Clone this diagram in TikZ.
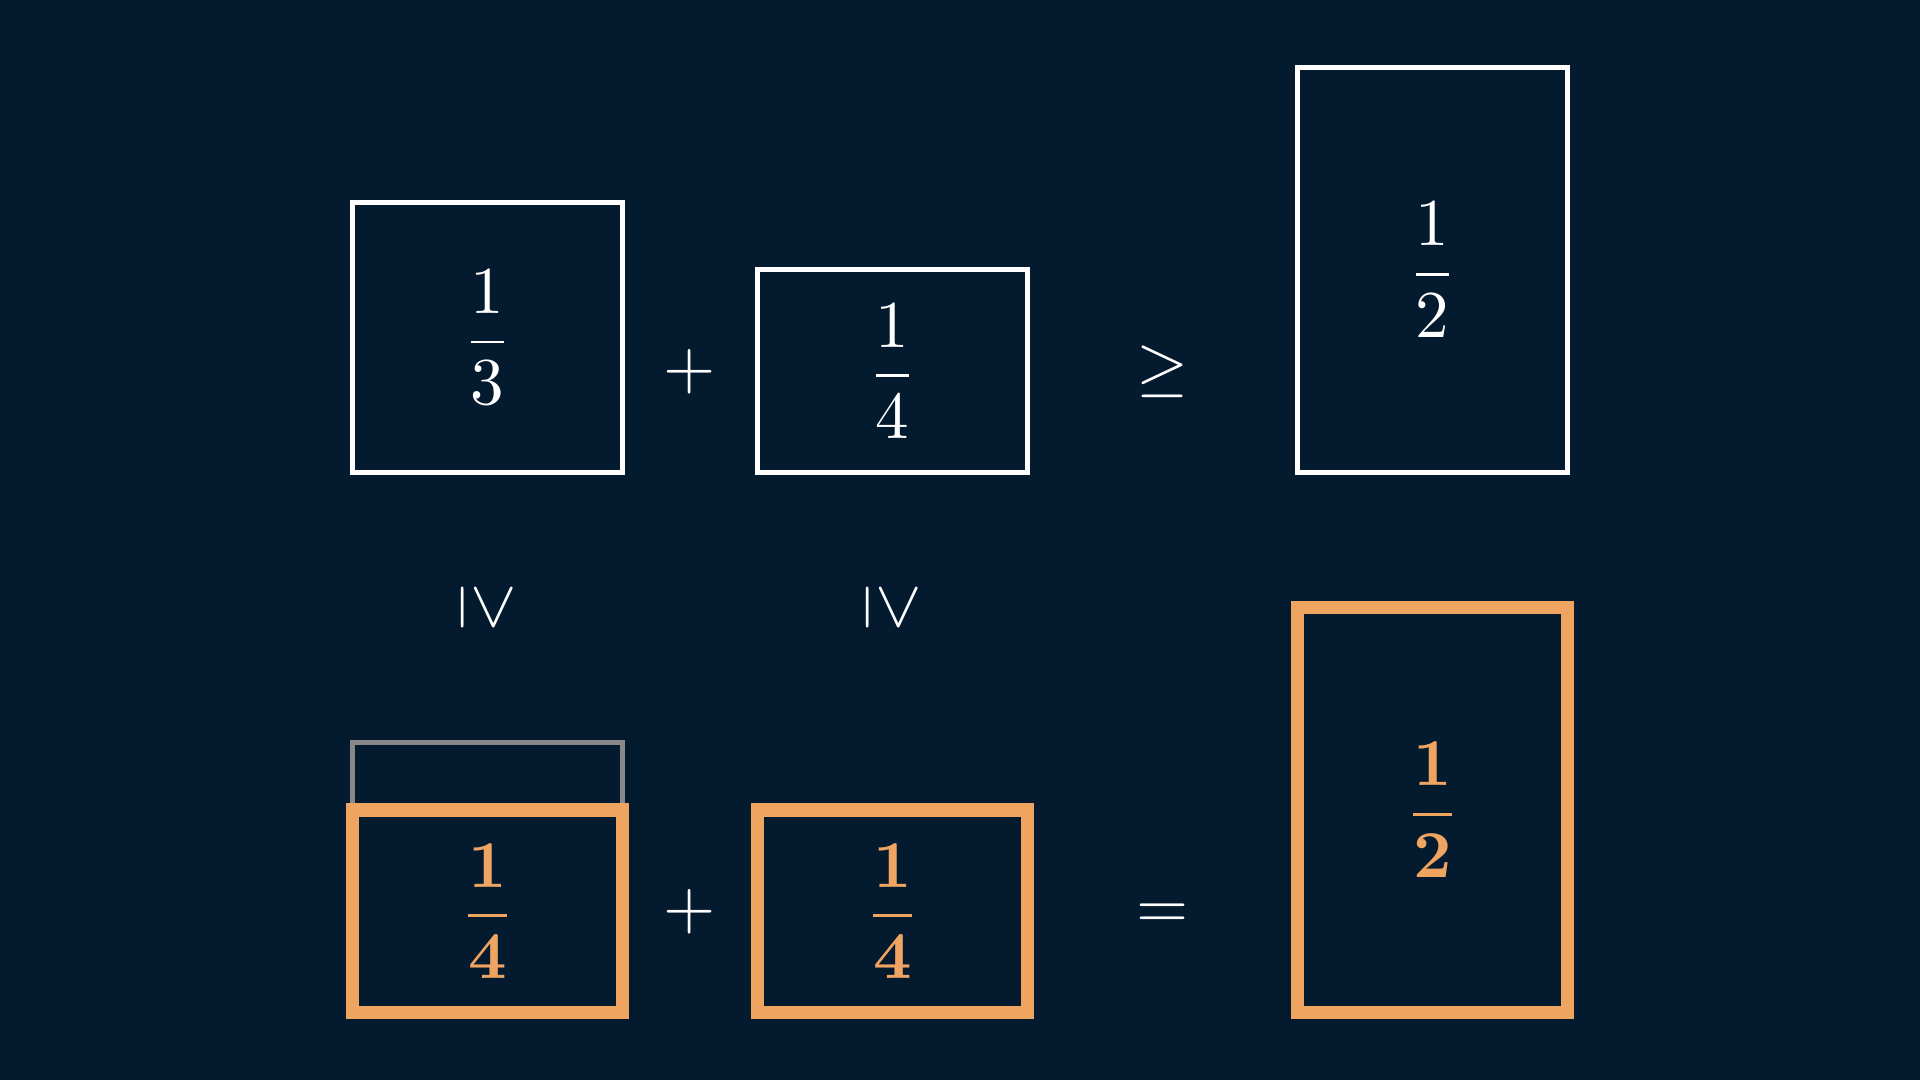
\documentclass[tikz,border=0pt]{standalone}
\usepackage{graphicx}
\definecolor{bgcol}{HTML}{041A2E}
\definecolor{orangecol}{HTML}{F0A462}
\definecolor{graycol}{HTML}{888888}
\newcommand{\mybig}[1]{\scalebox{3.35}{$\displaystyle #1$}}
\begin{document}
\begin{tikzpicture}[x=0.5pt,y=-0.5pt,
  whitebox/.style={draw=white,line width=2.5pt,inner sep=0pt,minimum width=135pt,text=white},
  orangebox/.style={draw=orangecol,line width=6.8pt,inner sep=0pt,minimum width=135pt,text=orangecol},
  graybox/.style={draw=graycol,line width=2.5pt,inner sep=0pt,minimum width=135pt},
  sym/.style={inner sep=0pt,text=white},
  hsq/.style={minimum height=135pt},
  hq/.style={minimum height=101.25pt},
  hh/.style={minimum height=202.5pt}]
\fill[bgcol] (0,0) rectangle (1920,1080);
\useasboundingbox (0,0) rectangle (1920,1080);
% top row
\node[whitebox,hsq] (t1) at (487.5,337.5) {\mybig{\frac{1}{3}}};
\node[whitebox,hq] (t2) at (892.5,371.25) {\mybig{\frac{1}{4}}};
\node[whitebox,hh] (t3) at (1432.5,270) {\mybig{\frac{1}{2}}};
\node[sym] (plusT) at (690,371.25) {\mybig{+}};
\node[sym] (geqT) at (1162.5,371.25) {\mybig{\geq}};
% middle relations
\node[sym,rotate=-90] (geqA) at (487.5,607.5) {\mybig{\geq}};
\node[sym,rotate=-90] (geqB) at (892.5,607.5) {\mybig{\geq}};
% bottom row
\node[graybox,hsq] (g1) at (487.5,877.5) {};
\node[orangebox,hq] (b1) at (487.5,911.25) {\mybig{\frac{\mathbf{1}}{\mathbf{4}}}};
\node[orangebox,hq] (b2) at (892.5,911.25) {\mybig{\frac{\mathbf{1}}{\mathbf{4}}}};
\node[orangebox,hh] (b3) at (1432.5,810) {\mybig{\frac{\mathbf{1}}{\mathbf{2}}}};
\node[sym] (plusB) at (690,911.25) {\mybig{+}};
\node[sym] (eqB) at (1162.5,911.25) {\mybig{{=}\vphantom{+}}};
\end{tikzpicture}
\end{document}
